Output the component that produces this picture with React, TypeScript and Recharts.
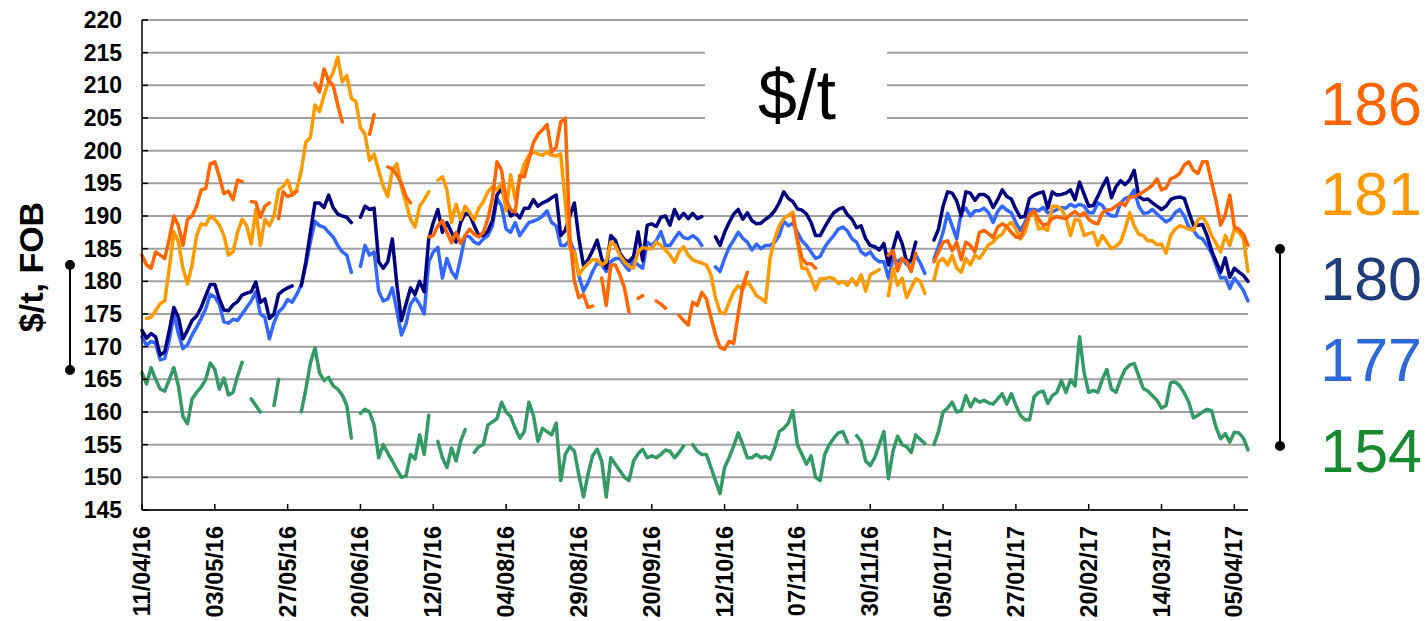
import { LineChart, Line, XAxis, YAxis, CartesianGrid } from 'recharts'

// date labels, one every 16 trading days
const dateTicks = ['11/04/16', '03/05/16', '27/05/16', '20/06/16', '12/07/16', '04/08/16', '29/08/16', '20/09/16', '12/10/16', '07/11/16', '30/11/16', '05/01/17', '27/01/17', '20/02/17', '14/03/17', '05/04/17']
const tickStep = 16
const yTicks = [145, 150, 155, 160, 165, 170, 175, 180, 185, 190, 195, 200, 205, 210, 215, 220]
const latestValues = ['186', '181', '180', '177', '154']

const red186 = [
  184, 182.5, 182, 184.5, 184, 183.5, 186.5, 190, 188.5, 185.5,
  189.5, 190, 191.5, 194, 194.2, 198, 198.3, 196, 193.4, 193.8,
  192.5, 195.5, 195.3, null, 192.2, 192.1, 189.8, 191.5, 192, null,
  189.6, 193.7, 193, 193.2, 193.8, null, null, null, 210.3, 209,
  212.5, 210.7, 210, 207, 204.4, null, null, null, null, null,
  202.5, 205.5, null, null, 197.5, 197.2, 196.3, 195, 193, 192,
  null, null, null, 186.8, 187, 188.5, 189.3, 187.5, 185.9, 187.5,
  185.8, 187, 188, 187.2, 186.8, 187.5, 189.6, 192.7, 198.3, 197,
  192.5, 191, 190.6, 196.2, 196, 198.6, 201.2, 202.5, 203.2, 204,
  199.8, 200.5, 204.4, 205, 187, 180, 177.5, 178, 176, 176.2,
  null, 180.5, 176.3, 182.5, 182.5, 181, 179, 175.3, null, 177.4,
  177.8, null, null, 177, 176.5, 175.9, null, null, 174.8, 174,
  173.3, 176.8, 176.3, 178.3, 177.3, 174.5, 171.8, 169.9, 169.6, 170.8,
  170.5, 175, 179.3, 181.4, null, null, null, null, null, null,
  null, null, null, 190, 186.5, 183.5, 182.7, 182.7, 182, null,
  null, null, null, null, null, null, null, null, null, null,
  null, null, null, null, 184, 184.7, 181.6, 183.5, 183, 181.5,
  184.3, null, null, null, 183, 184.5, 186, 186.2, 184.7, 186,
  183.3, 186, 185.5, 184.5, 187.5, 187.8, 187.3, 186.7, 188.3, 188.8,
  188.4, 187.5, 186.8, 186.7, 188.5, 190.2, 190.8, 189.5, 188.6, 188.8,
  189.6, 189.9, 189.7, 189.6, 190.2, 190.7, 190, 190.5, 189.5, 189,
  188.8, 190.5, 190.9, 191, 191.5, 192, 191.6, 192.9, 192.9, 193.3,
  193.7, 194.2, 194.7, 195.7, 194, 194.3, 195.7, 196, 196.5, 197.8,
  198.3, 197, 196.5, 198.3, 198.3, 195.2, 192.3, 188.6, 190.2, 193.2,
  188.3, 188, 187.2, 185.5,
]

const orange181 = [
  null, 174.3, 174.5, 175.5, 176.6, 177, 182, 187.6, 186, 182,
  179.6, 182.5, 187, 188.8, 188.6, 190, 189.5, 188.6, 187, 184,
  184.5, 187.5, 189.5, 188.5, 185.7, 191, 185.5, 189.5, 188.5, 190,
  194, 194.5, 195.5, 193.3, 194, 197, 201.3, 202, 207, 206,
  208.5, 210.5, 212, 214.3, 210.5, 211.5, 208, 207.5, 203.5, 202.5,
  198.5, 199.5, 197, 194.5, 193, 197, 198, 194.5, 192, 189.5,
  188.3, 191.5, 192.5, 193.7, null, 195.5, 196, 194, 189, 191.8,
  189.5, 191.5, 190.5, 189.4, 191.2, 192.2, 193.7, 194.5, 194, 195,
  190.8, 196.3, 192.5, 195.5, 198, 199.3, 199.8, 199.5, 199.3, 199.8,
  199.3, 199.2, 199.5, 192, 185, 184.5, 181, 182, 182.7, 183.3,
  183.3, 182.5, 183, 186, 185.5, 184, 183, 182.3, 182, 184.5,
  185.2, 185, 185, 186, 185.5, 184.8, 184, 182.9, 184.5, 185.3,
  184, 183.3, 183, 182.8, 182.5, 181, 177.5, 175.3, 175, 176.8,
  178.4, 179.3, 178.8, 180, 179, 177.8, 177.4, 176.8, 183.5, 186.5,
  188.5, 189.6, 190.1, 190.6, 186, 182, 182, 180.5, 178.7, 180.4,
  180.4, 180.6, 180.4, 179.7, 180, 179.4, 180.4, 179.4, 181, 178.5,
  181, 181.4, 181.8, null, 177.8, 182, 179.4, 180.5, 177.5, 179,
  180.4, 180, 178.2, null, 180.2, 183, 183.5, 182.5, 184, 182,
  181.4, 183.5, 182.5, 184, 183.5, 184.5, 185.6, 186, 186.8, 187.2,
  188.5, 189, 188, 186.5, 187.5, 190, 190.5, 188, 188.2, 187.8,
  191.5, 191.5, 191, 189.8, 187, 189.5, 189.3, 187, 187.3, 187.5,
  185.5, 187, 186, 185, 185.4, 186, 188, 190.5, 188.5, 187.2,
  187, 186.2, 186.2, 185.6, 185.7, 184.3, 187, 188, 188.5, 188.3,
  188, 187.8, 189.4, 189.9, 188.8, 187, 185.8, 184.5, 187, 185.5,
  188, 187.5, 186.5, 181.5,
]

const navy180 = [
  172.5, 171.3, 172, 171.5, 168.7, 169.2, 172.5, 176, 174.5, 171.2,
  172.5, 174, 174.7, 176, 177.8, 179.5, 179.5, 177.3, 175.6, 175.5,
  176.4, 176.9, 177.9, 178.2, 178.4, 179.9, 176.8, 177.3, 174.3, 175,
  178, 178.6, 179, 179.3, null, 179.3, 183, 187.5, 192, 192,
  191.3, 193.2, 191.3, 190.3, 190, 189.8, 189, null, 189.8, 191.5,
  191, 191.2, 183, 182, 183, 186.5, 179.5, 174, 176.5, 179,
  178, 180, 178.4, 186.5, 189, 191, 187.5, 189, 187.5, 186,
  189, 190.4, 190.2, 188.5, 187, 187, 187.7, 189.3, 193.2, 194.3,
  192, 190, 190.5, 189.7, 191.2, 191.2, 192.5, 191.5, 192, 192.3,
  192.8, 193.2, 187, 187.8, 190, 192, 186.5, 182.4, 183.3, 184.7,
  186.3, 183.5, 182, 187, 186.3, 184.3, 183.3, 183, 183.8, 187.6,
  183.2, 188.6, 188.8, 188.4, 189.8, 190, 188.6, 191, 189.6, 190.4,
  189.6, 190.4, 189.6, 189.9, null, null, 186.8, 185.5, 187.5, 189,
  190.3, 191, 189.5, 190.5, 189.3, 188.8, 188.9, 189.5, 190, 190.8,
  192, 193.7, 192.7, 192.2, 191.1, 190.9, 190.3, 189, 187, 187,
  188.3, 189.5, 190.5, 191, 191.3, 190.2, 189.5, 188.2, 188.5, 186.5,
  185.5, 185.3, 184.8, 185.8, 182.5, 185, 187.5, 185.8, 183, 183.3,
  186, null, null, null, 186.3, 188, 191.5, 193.7, 193.5, 192.3,
  190, 193.7, 193.5, 192.4, 193.3, 193.3, 192.8, 191.3, 192.5, 194,
  193, 192.6, 191, 189.8, 190, 192.7, 193.2, 193.5, 193.7, 191.2,
  193.7, 193.2, 193.3, 193.5, 194, 192.5, 195.2, 193.3, 191.5, 191.6,
  193, 194.5, 195.8, 192.8, 194.5, 195.4, 194.8, 195.5, 197, 193,
  192.5, 192.6, 192, 191.5, 191, 191.5, 192.5, 192.8, 192.9, 192.7,
  190.6, 188.6, 188.6, 188.7, 187, 184.7, 183, 181.4, 183.6, 180.6,
  182, 181.4, 180.9, 180,
]

const blue177 = [
  171.5, 170.2, 170.8, 170.5, 168, 168.2, 171, 175, 172, 169.7,
  170.3, 171.8, 173, 174.3, 175.8, 178, 177.6, 176.5, 173.8, 173.6,
  174.2, 174, 175, 176, 177, 178.4, 175, 174.5, 171.2, 173.7,
  175.3, 176, 177.2, 176.8, 178, 179.5, 182.5, 186, 189.2, 188.5,
  188.3, 187.5, 186.8, 185.5, 184.5, 184, 181.4, null, 182.3, 185.5,
  184, 184.5, 178.5, 177, 177.3, 179, 175.5, 171.8, 173.5, 176.5,
  177.5, 176.5, 175, 183, 184.5, 185.2, 180.5, 183.5, 181.5, 180.5,
  183.5, 187, 186.8, 186, 185.7, 186.5, 187, 188.5, 192.7, 191.5,
  188, 187.5, 189, 187, 188, 189, 189.2, 189.5, 190, 190.8,
  189, 188.5, 185.5, 185.5, 186.3, 184.5, 180.8, 178.5, 179.8, 181.5,
  182.8, 182.5, 181.5, 183, 183.5, 183.5, 182.5, 181.7, 183.2, 182.5,
  182, 186, 185.5, 186.2, 187.6, 185.5, 185.5, 186.5, 187.5, 186.7,
  186.5, 187, 186.5, 185.5, null, null, 182.2, 181.5, 183.5, 185.2,
  186.3, 187.5, 186.6, 186, 184.8, 185.7, 185, 185.5, 185.5, 186,
  187, 189.2, 188.5, 188.9, 187.5, 186.2, 185.5, 184.5, 183.5, 183.8,
  185.2, 186.2, 187, 188, 188.3, 187.7, 186.5, 186, 184.5, 184,
  184.5, 183.5, 183, 183, 180.5, 183.5, 183, 183.5, 182.6, 183,
  184, 182.8, 181.2, null, 183.4, 185.3, 187.5, 190.4, 188.5, 186.5,
  190.6, 191.2, 190, 190.8, 190.8, 191.2, 190.5, 189, 190.7, 191.5,
  190.9, 190.5, 189, 187.8, 189, 191, 191, 190.8, 191.3, 190.5,
  190.6, 191, 191.3, 191.2, 191.8, 191.4, 191.8, 191.5, 190.5, 190.5,
  192, 191.6, 190.5, 190, 190, 192, 192.7, 192.9, 194, 191.5,
  190.4, 190.5, 191, 190.3, 189.7, 189.1, 189.5, 190.5, 191, 190,
  188.3, 187.8, 186.8, 186.5, 185.5, 184.3, 182.4, 180.5, 180.6, 178.9,
  180.5, 179.6, 178.6, 177,
]

const green154 = [
  166, 164.3, 166.8, 165, 163.5, 163.2, 165, 166.8, 164, 159.3,
  158.2, 162, 163, 163.8, 165, 167.5, 166.5, 163.5, 165.2, 162.6,
  163, 165.5, 167.6, null, 162, 161, 160, null, null, 161,
  165, null, null, null, null, 160, 163.5, 167.5, 169.8, 166,
  164.8, 165.3, 164, 163.5, 162.6, 161, 156, null, 159.8, 160.4,
  160, 158, 153, 155, 153.7, 152.5, 151.2, 150, 150.2, 153.5,
  152.8, 156.5, 153.5, 159.5, null, 155.5, 153, 151.5, 154.5, 152.5,
  155.5, 157.3, null, 153.8, 154.7, 155, 158, 158.5, 159, 161.5,
  160, 159.3, 157.5, 156, 157, 161.5, 159.5, 155.5, 157.5, 157,
  156.5, 158.3, 149.5, 153.5, 154.7, 154, 150.3, 147, 150.5, 153.3,
  154.3, 152.5, 147, 153, 152, 151, 150, 149.5, 152.5, 153.6,
  154.3, 153, 153.3, 153, 153.5, 154.2, 154, 153, 153.8, 154.8,
  null, 155, 154, 153.5, 153.5, 151.5, 149.5, 147.5, 151.5, 153,
  154.8, 156.8, 155, 153, 153, 153.5, 153, 153.2, 152.8, 154.5,
  157, 157.5, 158.3, 160.2, 155, 153.5, 152, 153.3, 150, 149.5,
  153.5, 155, 156, 156.8, 157, 155.3, null, 156.4, 155.5, 152.5,
  151.8, 153, 155, 157, 149.8, 154, 156.3, 155, 154.7, 153.8,
  156.5, 155.8, 155.2, null, 155, 157, 160, 160.6, 161.5, 160,
  160.2, 162.5, 160.8, 162, 161.5, 161.8, 161.4, 161.2, 162, 162.8,
  161.2, 162.8, 161, 159.5, 158.8, 158.8, 162.3, 163, 163.2, 161.3,
  162.5, 163, 164.8, 163, 164.9, 164, 171.5, 166, 163, 163.3,
  163, 165, 166.5, 163.5, 163, 165, 166.5, 167.2, 167.4, 165.5,
  163.6, 163.2, 162.5, 161.8, 160.6, 161, 164.5, 164.6, 164, 162.9,
  161.5, 159.1, 159.5, 160, 160.4, 160.2, 157.6, 155.9, 156.7, 155.4,
  156.9, 156.8, 156, 154.2,
]

const chartData = red186.map((_, i) => ({
  i,
  red: red186[i],
  orange: orange181[i],
  navy: navy180[i],
  blue: blue177[i],
  green: green154[i],
}))

const FONT = '"Liberation Sans", Arial, sans-serif'

function DateTick({ x, y, payload }: any) {
  return (
    <text
      x={x}
      y={y}
      transform={`rotate(-90, ${x}, ${y})`}
      textAnchor="end"
      dominantBaseline="central"
      fontSize={23.5}
      fontWeight="bold"
      fontFamily={FONT}
      fill="#000"
    >
      {dateTicks[Math.round(payload.value / tickStep)]}
    </text>
  )
}

const labelColors = ['#ff6600', '#ff9900', '#1f3d7a', '#2e69db', '#178a2e']
const labelY = [125, 215, 300, 381, 472]

export default function App() {
  const lineProps = {
    type: 'linear' as const,
    dot: false,
    strokeWidth: 3.5,
    isAnimationActive: false,
    strokeLinejoin: 'round' as const,
    strokeLinecap: 'round' as const,
  }

  return (
    <div style={{ position: 'absolute', left: 0, top: 0, width: 1426, height: 621, background: '#fff', fontFamily: FONT }}>
      <LineChart width={1426} height={621} data={chartData} margin={{ top: 20, right: 178, bottom: 81, left: 82 }}>
        <CartesianGrid vertical={false} stroke="#a0a0a0" strokeWidth={2} />
        <XAxis
          type="number"
          dataKey="i"
          domain={[0, 243]}
          ticks={dateTicks.map((_, k) => k * tickStep)}
          interval={0}
          height={30}
          tickSize={-6}
          tickMargin={22}
          axisLine={{ stroke: '#000', strokeWidth: 1.5 }}
          tickLine={{ stroke: '#000', strokeWidth: 1.5 }}
          tick={<DateTick />}
        />
        <YAxis
          domain={[145, 220]}
          ticks={yTicks}
          interval={0}
          width={60}
          tickSize={-6}
          tickMargin={26}
          axisLine={{ stroke: '#000', strokeWidth: 1.5 }}
          tickLine={{ stroke: '#000', strokeWidth: 1.5 }}
          tick={{ fill: '#000', fontSize: 23, fontWeight: 'bold', fontFamily: FONT }}
        />
        <Line dataKey="green" stroke="#339966" {...lineProps} />
        <Line dataKey="blue" stroke="#3366ff" {...lineProps} />
        <Line dataKey="navy" stroke="#000080" {...lineProps} />
        <Line dataKey="orange" stroke="#ff9900" {...lineProps} />
        <Line dataKey="red" stroke="#ff6600" {...lineProps} />
      </LineChart>

      <svg width={1426} height={621} style={{ position: 'absolute', left: 0, top: 0, pointerEvents: 'none' }}>
        <rect x={705} y={36} width={182} height={100} fill="#fff" />
        <text x={797} y={119} fontSize={70} textAnchor="middle" fontFamily={FONT} fill="#000">$/t</text>

        <text x={43} y={267} transform="rotate(-90, 43, 267)" fontSize={34} fontWeight="bold" textAnchor="middle" fontFamily={FONT} fill="#000">
          $/t, FOB
        </text>
        <line x1={70} y1={265} x2={70} y2={370} stroke="#000" strokeWidth={2} />
        <circle cx={70} cy={265} r={5} fill="#000" />
        <circle cx={70} cy={370} r={5} fill="#000" />

        <line x1={1280} y1={249} x2={1280} y2={446} stroke="#000" strokeWidth={2} />
        <circle cx={1280} cy={249} r={5} fill="#000" />
        <circle cx={1280} cy={446} r={5} fill="#000" />

        {latestValues.map((v, k) => (
          <text key={v} x={1422} y={labelY[k]} fontSize={61} textAnchor="end" fontFamily={FONT} fill={labelColors[k]}>
            {v}
          </text>
        ))}
      </svg>
    </div>
  )
}
